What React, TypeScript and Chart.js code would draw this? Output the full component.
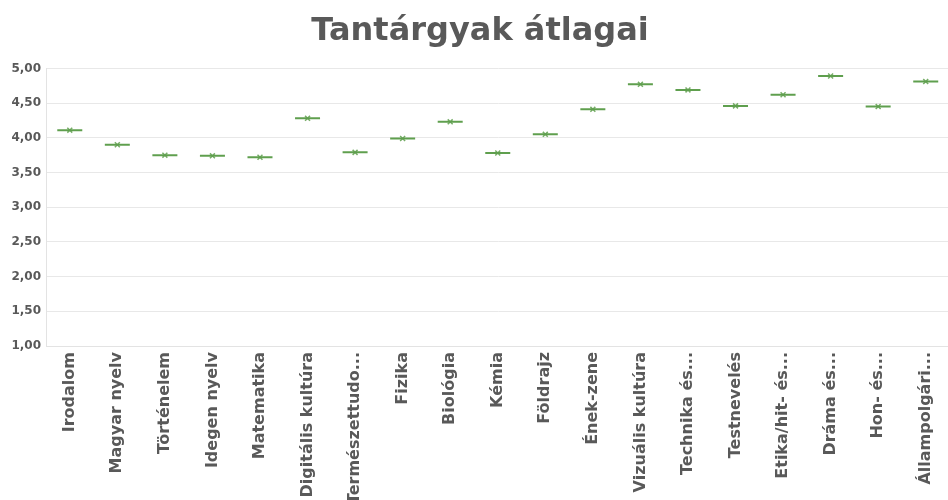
import React, { useEffect, useRef } from "react";
import { Chart, registerables } from "chart.js";

Chart.register(...registerables);

const TITLE = "Tantárgyak átlagai";

const categories = [
  "Irodalom",
  "Magyar nyelv",
  "Történelem",
  "Idegen nyelv",
  "Matematika",
  "Digitális kultúra",
  "Természettudo...",
  "Fizika",
  "Biológia",
  "Kémia",
  "Földrajz",
  "Ének-zene",
  "Vizuális kultúra",
  "Technika és...",
  "Testnevelés",
  "Etika/hit- és...",
  "Dráma és...",
  "Hon- és...",
  "Állampolgári...",
];

const averages = [
  4.11, 3.9, 3.75, 3.74, 3.72, 4.28, 3.79, 3.99, 4.23, 3.78, 4.05, 4.41, 4.77,
  4.69, 4.46, 4.62, 4.89, 4.45, 4.81,
];

const yTickLabels = ["1,00", "1,50", "2,00", "2,50", "3,00", "3,50", "4,00", "4,50", "5,00"];
const yMin = 1;
const yMax = 5;
const yStep = 0.5;

const FONT = "'DejaVu Sans', sans-serif";
const TEXT = "#595959";

export default function App() {
  const ref = useRef<HTMLCanvasElement | null>(null);

  useEffect(() => {
    if (!ref.current) return;
    const chart = new Chart(ref.current, {
      type: "line",
      data: {
        labels: categories,
        datasets: [
          {
            data: averages,
            showLine: false,
            pointStyle: "line",
            pointRadius: 12.5,
            pointHoverRadius: 12.5,
            pointBorderColor: "#5f9f4e",
            pointBackgroundColor: "#5f9f4e",
            pointBorderWidth: 2,
          },
          {
            data: averages,
            showLine: false,
            pointStyle: "crossRot",
            pointRadius: 3.5,
            pointHoverRadius: 3.5,
            pointBorderColor: "#76ad67",
            pointBackgroundColor: "#76ad67",
            pointBorderWidth: 1.5,
          },
        ],
      },
      options: {
        responsive: false,
        animation: false,
        layout: { padding: { left: 0, right: 4, top: 0, bottom: 0 } },
        plugins: {
          legend: { display: false },
          tooltip: { enabled: false },
          title: {
            display: true,
            text: TITLE,
            color: TEXT,
            font: { family: FONT, size: 32, weight: "bold" },
            padding: { top: 12, bottom: 18 },
          },
        },
        scales: {
          x: {
            offset: true,
            afterFit: (s: any) => {
              s.height = 154;
            },
            grid: { display: false, drawTicks: false },
            border: { display: true, color: "#e3e3e3", width: 1 },
            ticks: {
              autoSkip: false,
              maxRotation: 90,
              minRotation: 90,
              padding: 6,
              color: TEXT,
              font: { family: FONT, size: 16, weight: "bold" },
            },
          },
          y: {
            min: yMin,
            max: yMax,
            afterFit: (s: any) => {
              s.width = 46;
            },
            grid: { color: "#e8e8e8", lineWidth: 1, drawTicks: false },
            border: { display: true, color: "#e3e3e3", width: 1 },
            ticks: {
              stepSize: yStep,
              padding: 5,
              color: TEXT,
              font: { family: FONT, size: 12, weight: "bold" },
              callback: (v: any) => {
                const idx = Math.round((Number(v) - yMin) / yStep);
                return yTickLabels[idx] ?? "";
              },
            },
          },
        },
      },
    });
    return () => chart.destroy();
  }, []);

  return (
    <div
      style={{
        position: "fixed",
        left: 0,
        top: 0,
        width: 948,
        height: 500,
        overflow: "hidden",
        background: "#ffffff",
      }}
    >
      <canvas ref={ref} width={964} height={500} style={{ display: "block" }} />
    </div>
  );
}
